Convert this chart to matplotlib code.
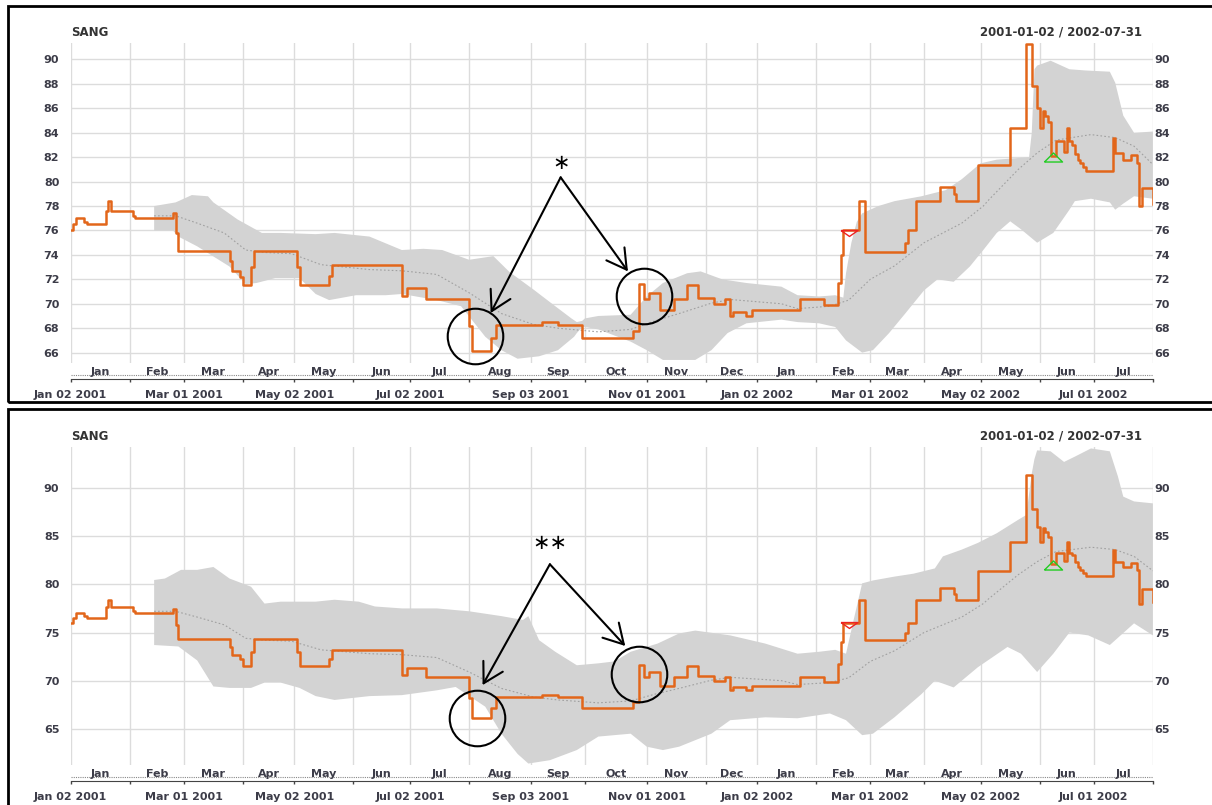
import numpy as np
import pandas as pd
import matplotlib
matplotlib.use("Agg")
import matplotlib.pyplot as plt
from matplotlib.path import Path
from matplotlib.patches import Rectangle
from matplotlib.transforms import blended_transform_factory, ScaledTranslation

plt.rcParams['font.family'] = 'DejaVu Sans'
plt.rcParams['font.weight'] = 'bold'

# ---------------- SANG closing prices (level changes, carried forward) ----------------
price_dates = [
    '2001-01-02', '2001-01-03', '2001-01-04', '2001-01-09', '2001-01-10', '2001-01-19',
    '2001-01-22', '2001-01-23', '2001-02-02', '2001-02-05', '2001-02-23', '2001-02-26',
    '2001-02-27', '2001-03-26', '2001-03-27', '2001-03-30', '2001-04-02', '2001-04-05',
    '2001-04-06', '2001-05-03', '2001-05-04', '2001-05-21', '2001-05-22', '2001-06-27',
    '2001-06-29', '2001-07-10', '2001-08-01', '2001-08-02', '2001-08-13', '2001-08-15',
    '2001-09-07', '2001-09-17', '2001-09-28', '2001-10-25', '2001-10-29', '2001-10-31',
    '2001-11-02', '2001-11-08', '2001-11-15', '2001-11-22', '2001-11-28', '2001-12-06',
    '2001-12-12', '2001-12-14', '2001-12-17', '2001-12-24', '2001-12-28', '2002-01-24',
    '2002-02-06', '2002-02-13', '2002-02-14', '2002-02-15', '2002-02-25', '2002-02-27',
    '2002-03-20', '2002-03-21', '2002-03-26', '2002-04-10', '2002-04-17', '2002-04-18',
    '2002-04-30', '2002-05-17', '2002-05-27', '2002-05-29', '2002-05-31', '2002-06-03',
    '2002-06-04', '2002-06-05', '2002-06-06', '2002-06-07', '2002-06-11', '2002-06-14',
    '2002-06-17', '2002-06-18', '2002-06-19', '2002-06-20', '2002-06-21', '2002-06-24',
    '2002-06-25', '2002-06-26', '2002-07-10', '2002-07-11', '2002-07-16', '2002-07-19',
    '2002-07-23', '2002-07-24', '2002-07-25', '2002-07-31',
]
price_close = [
    76.0, 76.5, 77.0, 76.7, 76.5, 77.6,
    78.4, 77.6, 77.2, 77.0, 77.4, 75.8,
    74.3, 73.5, 72.7, 72.2, 71.5, 73.0,
    74.3, 73.0, 71.5, 72.3, 73.2, 70.6,
    71.3, 70.4, 68.2, 66.1, 67.2, 68.3,
    68.5, 68.3, 67.2, 67.8, 71.6, 70.4,
    70.9, 69.5, 70.4, 71.5, 70.5, 70.0,
    70.4, 69.0, 69.3, 69.0, 69.5, 70.4,
    69.9, 71.7, 74.0, 76.0, 78.4, 74.2,
    75.0, 76.0, 78.4, 79.6, 79.0, 78.4,
    81.4, 84.4, 91.3, 87.8, 86.0, 84.4,
    85.8, 85.4, 84.9, 82.1, 83.3, 82.4,
    84.4, 83.3, 83.0, 82.3, 81.8, 81.5,
    81.2, 80.85, 83.6, 82.35, 81.8, 82.2,
    81.5, 78.0, 79.5, 78.2,
]

# moving average (centre of the bands)
ma_dates = [
    '2001-02-14', '2001-02-26', '2001-03-08', '2001-03-22', '2001-04-03', '2001-04-12',
    '2001-04-30', '2001-05-16', '2001-06-11', '2001-06-27', '2001-07-16', '2001-08-01',
    '2001-08-17', '2001-09-04', '2001-09-17', '2001-10-08', '2001-10-24', '2001-11-06',
    '2001-11-19', '2001-12-05', '2001-12-14', '2002-01-15', '2002-01-23', '2002-02-08',
    '2002-02-19', '2002-03-01', '2002-03-14', '2002-04-02', '2002-04-22', '2002-05-03',
    '2002-05-07', '2002-05-22', '2002-05-31', '2002-06-11', '2002-06-28', '2002-07-11',
    '2002-07-22', '2002-07-31',
]
ma_value = [
    77.2, 77.2, 76.6, 75.8, 74.4, 74.2,
    74.1, 73.2, 72.8, 72.7, 72.4, 70.9,
    69.2, 68.3, 68.0, 67.7, 67.9, 68.6,
    69.2, 70.05, 70.35, 70.0, 69.6, 69.8,
    70.3, 72.0, 73.1, 75.0, 76.6, 78.0,
    78.5, 81.0, 82.35, 83.4, 83.85, 83.6,
    82.9, 81.4,
]

# upper panel bands
top_up_dates = [
    '2001-02-14', '2001-02-26', '2001-03-06', '2001-03-14', '2001-03-16', '2001-03-29',
    '2001-04-11', '2001-04-24', '2001-05-14', '2001-05-23', '2001-06-11', '2001-06-27',
    '2001-07-09', '2001-07-18', '2001-08-01', '2001-08-14', '2001-08-22', '2001-09-04',
    '2001-09-14', '2001-09-24', '2001-09-26', '2001-09-28', '2001-10-01', '2001-10-08',
    '2001-10-24', '2001-11-01', '2001-11-09', '2001-11-22', '2001-11-29', '2001-12-11',
    '2001-12-24', '2002-01-15', '2002-01-23', '2002-02-04', '2002-02-12', '2002-02-15',
    '2002-02-18', '2002-02-20', '2002-02-22', '2002-02-26', '2002-03-06', '2002-03-14',
    '2002-03-28', '2002-04-12', '2002-04-22', '2002-05-02', '2002-05-10', '2002-05-28',
    '2002-05-29', '2002-05-30', '2002-05-31', '2002-06-07', '2002-06-18', '2002-06-26',
    '2002-07-09', '2002-07-11', '2002-07-16', '2002-07-22', '2002-07-31',
]
top_up = [
    78.0, 78.3, 78.9, 78.8, 78.3, 76.9,
    75.8, 75.8, 75.7, 75.8, 75.5, 74.4,
    74.5, 74.4, 73.6, 73.9, 72.6, 71.15,
    69.8, 68.8, 68.5, 68.6, 68.8, 69.0,
    69.1, 70.6, 71.7, 72.5, 72.65, 72.0,
    71.7, 71.4, 70.7, 70.6, 70.7, 70.5,
    72.5, 75.0, 76.7, 77.4, 78.0, 78.4,
    78.8, 79.3, 80.2, 81.5, 81.8, 82.0,
    84.0, 89.2, 89.5, 89.9, 89.2, 89.1,
    89.0, 88.1, 85.4, 84.0, 84.1,
]
top_lo_dates = [
    '2001-02-14', '2001-02-23', '2001-02-27', '2001-03-08', '2001-03-26', '2001-04-03',
    '2001-04-09', '2001-04-20', '2001-05-04', '2001-05-14', '2001-05-21', '2001-06-04',
    '2001-06-19', '2001-06-27', '2001-07-16', '2001-07-27', '2001-08-09', '2001-08-17',
    '2001-08-27', '2001-09-06', '2001-09-17', '2001-09-25', '2001-09-26', '2001-09-28',
    '2001-10-01', '2001-10-08', '2001-10-24', '2001-11-01', '2001-11-09', '2001-11-27',
    '2001-12-05', '2001-12-13', '2001-12-24', '2002-01-15', '2002-01-23', '2002-02-04',
    '2002-02-12', '2002-02-18', '2002-02-26', '2002-03-04', '2002-03-12', '2002-03-20',
    '2002-04-02', '2002-04-09', '2002-04-17', '2002-04-25', '2002-05-03', '2002-05-10',
    '2002-05-17', '2002-05-23', '2002-05-31', '2002-06-10', '2002-06-18', '2002-06-20',
    '2002-06-28', '2002-07-09', '2002-07-11', '2002-07-16', '2002-07-22', '2002-07-31',
]
top_lo = [
    76.0, 76.0, 75.5, 74.7, 73.05, 71.6,
    71.7, 72.1, 72.1, 70.8, 70.3, 70.7,
    70.7, 70.8, 70.3, 69.8, 67.3, 66.2,
    65.5, 65.7, 66.2, 67.3, 67.6, 68.1,
    68.1, 67.9, 66.9, 66.2, 65.4, 65.4,
    66.2, 67.6, 68.4, 68.7, 68.5, 68.4,
    68.1, 67.0, 66.0, 66.2, 67.6, 69.2,
    71.1, 72.0, 71.8, 73.05, 74.4, 75.8,
    76.75, 76.1, 75.0, 75.8, 77.7, 78.4,
    78.6, 78.3, 77.7, 78.2, 78.8, 78.6,
]

# lower panel bands
bot_up_dates = [
    '2001-02-14', '2001-02-20', '2001-02-28', '2001-03-08', '2001-03-16', '2001-03-26',
    '2001-04-05', '2001-04-12', '2001-04-24', '2001-05-14', '2001-05-23', '2001-06-05',
    '2001-06-13', '2001-06-27', '2001-07-16', '2001-08-01', '2001-08-17', '2001-08-29',
    '2001-08-31', '2001-09-06', '2001-09-14', '2001-09-26', '2001-10-08', '2001-10-16',
    '2001-10-24', '2001-11-07', '2001-11-19', '2001-11-27', '2001-12-14', '2002-01-07',
    '2002-01-23', '2002-02-04', '2002-02-12', '2002-02-18', '2002-02-21', '2002-02-22',
    '2002-02-26', '2002-03-04', '2002-03-14', '2002-03-25', '2002-04-08', '2002-04-11',
    '2002-04-22', '2002-04-30', '2002-05-10', '2002-05-22', '2002-05-27', '2002-05-29',
    '2002-05-30', '2002-05-31', '2002-06-07', '2002-06-14', '2002-06-20', '2002-06-28',
    '2002-07-09', '2002-07-12', '2002-07-16', '2002-07-22', '2002-07-31',
]
bot_up = [
    80.45, 80.6, 81.5, 81.5, 81.8, 80.6,
    79.75, 78.0, 78.2, 78.2, 78.4, 78.2,
    77.7, 77.5, 77.5, 77.2, 76.7, 76.3,
    76.7, 74.2, 73.0, 71.6, 71.8, 72.0,
    73.0, 73.85, 74.9, 75.2, 74.7, 73.85,
    72.8, 73.0, 73.2, 72.8, 76.5, 77.7,
    80.1, 80.4, 80.8, 81.1, 81.65, 82.9,
    83.6, 84.3, 85.3, 86.7, 87.2, 91.5,
    93.0, 93.9, 93.8, 92.7, 93.25, 94.1,
    93.8, 91.2, 89.1, 88.6, 88.4,
]
bot_lo_dates = [
    '2001-02-14', '2001-02-27', '2001-03-08', '2001-03-16', '2001-03-26', '2001-04-05',
    '2001-04-12', '2001-04-24', '2001-05-04', '2001-05-14', '2001-05-23', '2001-06-11',
    '2001-06-27', '2001-07-16', '2001-07-25', '2001-08-09', '2001-08-17', '2001-08-27',
    '2001-08-31', '2001-09-12', '2001-09-26', '2001-10-08', '2001-10-24', '2001-11-01',
    '2001-11-09', '2001-11-19', '2001-12-05', '2001-12-14', '2002-01-07', '2002-01-23',
    '2002-02-08', '2002-02-18', '2002-02-26', '2002-03-04', '2002-03-14', '2002-03-28',
    '2002-04-08', '2002-04-17', '2002-04-30', '2002-05-16', '2002-05-23', '2002-05-31',
    '2002-06-10', '2002-06-18', '2002-06-27', '2002-07-09', '2002-07-22', '2002-07-31',
]
bot_lo = [
    73.7, 73.55, 72.1, 69.4, 69.25, 69.25,
    69.8, 69.8, 69.25, 68.4, 68.0, 68.4,
    68.5, 69.0, 69.35, 67.3, 64.5, 62.4,
    61.4, 61.75, 62.8, 64.2, 64.5, 63.15,
    62.8, 63.15, 64.5, 65.9, 66.2, 66.1,
    66.6, 65.9, 64.35, 64.5, 66.2, 68.6,
    70.0, 69.3, 71.4, 73.5, 72.8, 70.9,
    72.8, 75.0, 74.7, 73.7, 75.95, 74.7,
]

# signal points
sell_date, sell_level = '2002-02-19', 75.8
buy_date, buy_level = '2002-06-10', 82.0

# ---------------- trading calendar: one x step per session ----------------
holidays = pd.to_datetime([
    '2001-01-01', '2001-04-13', '2001-04-16', '2001-05-01', '2001-12-25', '2001-12-26',
    '2002-01-01', '2002-03-29', '2002-04-01', '2002-05-01',
])
sessions = pd.bdate_range('2001-01-02', '2002-07-31')
sessions = sessions[~sessions.isin(holidays)]
last = len(sessions) - 1


def idx(dates):
    return sessions.searchsorted(pd.to_datetime(dates))


month_first = sessions.to_series().groupby(sessions.to_period('M')).first()
month_pos = idx(month_first.values)
month_edges = np.r_[month_pos, last]

W, H = 1212, 805
fig = plt.figure(figsize=(W / 100, H / 100), dpi=100)

text_col = '#3c3c48'
grid_col = '#dcdcdc'
band_col = '#d3d3d3'
line_col = '#e2661a'
ma_col = '#a0a0a0'


def px_axes(x0, y0, x1, y1):
    return fig.add_axes([x0 / W, 1 - y1 / H, (x1 - x0) / W, (y1 - y0) / H])


def down_px(ax, px):
    return blended_transform_factory(ax.transData, ax.transAxes) + \
        ScaledTranslation(0, -px / 100, fig.dpi_scale_trans)


tri_down = Path([(-1, 0.35), (1, 0.35), (0, -0.35), (-1, 0.35)])
tri_up = Path([(-1, -0.5), (1, -0.5), (0, 0.5), (-1, -0.5)])


def panel(ax, up_d, up, lo_d, lo, ylim, yticks):
    ax.set_xlim(0, last)
    ax.set_ylim(*ylim)
    ax.set_axisbelow(True)
    for s in ['top', 'left', 'right']:
        ax.spines[s].set_visible(False)
    ax.spines['bottom'].set_position(('outward', 11.5))
    ax.spines['bottom'].set_color('#444444')

    labels = []
    for i, p in enumerate(month_edges):
        d = sessions[p]
        labels.append(d.strftime('%b %d %Y') if (i < len(month_pos) and d.month % 2 == 1) else '')
    ax.set_xticks(month_edges)
    ax.set_xticklabels(labels)
    ax.tick_params(axis='x', length=2.2, width=1, color='#444444', pad=6,
                   labelsize=8, labelcolor=text_col)
    ax.set_yticks(yticks)
    ax.tick_params(axis='y', length=0, pad=8.2, labelsize=8, labelcolor=text_col)
    ax.grid(True, color=grid_col, lw=1)

    right = ax.secondary_yaxis('right')
    right.set_yticks(yticks)
    right.tick_params(length=0, pad=1, labelsize=8, labelcolor=text_col)
    for s in right.spines.values():
        s.set_visible(False)

    # month names and the dotted session rule
    for a, b, d in zip(month_edges[:-1], month_edges[1:], month_first.index):
        ax.text((a + b) / 2, 0, d.strftime('%b'), transform=down_px(ax, 9),
                ha='center', va='center', fontsize=8, color=text_col, clip_on=False)
    ax.plot([0, last], [0, 0], transform=down_px(ax, 12), ls=(0, (1, 1)),
            lw=0.8, color='#888888', clip_on=False)

    ax.text(0, 1, 'SANG', transform=ax.transAxes + ScaledTranslation(0, 0.11, fig.dpi_scale_trans),
            ha='left', va='center', fontsize=8.5, color='#333333')
    ax.text(1, 1, '2001-01-02 / 2002-07-31',
            transform=ax.transAxes + ScaledTranslation(-0.11, 0.11, fig.dpi_scale_trans),
            ha='right', va='center', fontsize=8.5, color='#333333')

    ax.fill(np.r_[idx(up_d), idx(lo_d)[::-1]], np.r_[up, lo[::-1]],
            color=band_col, lw=0, zorder=1)
    ax.plot(idx(ma_dates), ma_value, ls=(0, (1.5, 2)), lw=0.8, color=ma_col, zorder=2)
    ax.step(np.r_[idx(price_dates), last], np.r_[price_close, price_close[-1]],
            where='post', color=line_col, lw=1.8, zorder=3)
    ax.plot(idx([sell_date]), [sell_level], ls='none', marker=tri_down, ms=12.2,
            mfc='none', mec='#ee2222', mew=1, zorder=4)
    ax.plot(idx([buy_date]), [buy_level], ls='none', marker=tri_up, ms=13,
            mfc='none', mec='#22cc22', mew=1, zorder=4)


def callouts(ax, stars, star_at, apex, tips, rings):
    ax.text(idx([star_at[0]])[0], star_at[1], stars, ha='center', va='center',
            fontsize=15, fontweight='normal', color='black', zorder=7)
    for d, v in tips:
        ax.annotate('', xy=(idx([d])[0], v), xytext=(idx([apex[0]])[0], apex[1]),
                    arrowprops=dict(arrowstyle='->,head_length=0.7,head_width=0.4',
                                    lw=1.5, color='black', mutation_scale=20,
                                    shrinkA=0, shrinkB=0), zorder=7)
    for d, v in rings:
        ax.plot(idx([d]), [v], ls='none', marker='o', ms=40, mfc='none', mec='black',
                mew=1.5, clip_on=False, zorder=6)


top = px_axes(70.7, 43, 1152.9, 363)
panel(top, top_up_dates, np.array(top_up), top_lo_dates, np.array(top_lo),
      (65.15, 91.35), np.arange(66, 91, 2))
callouts(top, '\u2217', ('2001-09-18', 81.5), ('2001-09-18', 80.35),
         [('2001-08-13', 69.24), ('2001-10-23', 72.65)],
         [('2001-08-03', 67.4), ('2001-10-31', 70.6)])

bottom = px_axes(70.7, 447, 1152.9, 765)
panel(bottom, bot_up_dates, np.array(bot_up), bot_lo_dates, np.array(bot_lo),
      (61.25, 94.25), np.arange(65, 91, 5))
callouts(bottom, '\u2217\u2217', ('2001-09-12', 84.3), ('2001-09-12', 82.08),
         [('2001-08-08', 69.54), ('2001-10-22', 73.6)],
         [('2001-08-06', 66.17), ('2001-10-29', 70.69)])

# frames around the two charts
for y0, y1 in [(6.5, 402.5), (409, 812)]:
    fig.add_artist(Rectangle((8.3 / W, 1 - y1 / H), (1215 - 8.3) / W, (y1 - y0) / H,
                             transform=fig.transFigure, fill=False, ec='black', lw=2))

fig.savefig('out.png', dpi=100)
